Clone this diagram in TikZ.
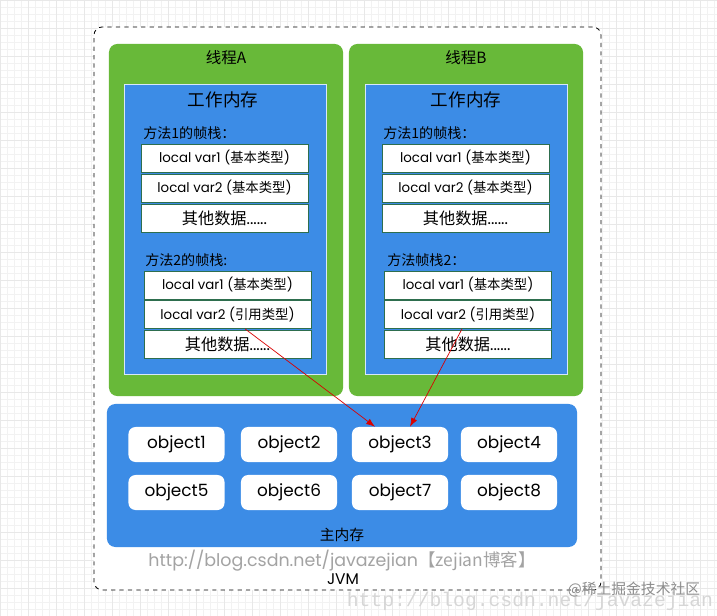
\documentclass[tikz,border=0pt]{standalone}
\usepackage{fontspec}
\setmainfont{Poppins}
\newfontfamily\cjk{Noto Sans CJK SC}
\newfontfamily\wmfont{Liberation Mono}
\usepackage{tikz}
\usetikzlibrary{positioning, arrows.meta}

\definecolor{threadgreen}{HTML}{68B939}
\definecolor{membluebg}{HTML}{3C8CE6}
\definecolor{slotline}{HTML}{2E6E4E}
\definecolor{urlgray}{HTML}{A3A3A3}

\begin{document}
\begin{tikzpicture}[
  x=0.025cm, y=-0.025cm,
  thread/.style={rectangle, rounded corners=6pt, fill=threadgreen, minimum width=5.85cm, minimum height=8.8cm},
  workmem/.style={rectangle, draw=white!80!membluebg, line width=0.6pt, fill=membluebg, minimum width=5.05cm, minimum height=7.25cm},
  slot/.style={rectangle, draw=slotline, line width=0.6pt, fill=white, minimum width=4.175cm, minimum height=0.7cm, inner sep=0pt, font=\fontsize{9.5}{11}\selectfont},
  restslot/.style={slot, font=\fontsize{11.5}{13}\selectfont},
  obj/.style={rectangle, rounded corners=5pt, fill=white, minimum width=2.4cm, minimum height=0.875cm, inner sep=0pt, font=\fontsize{12}{14}\selectfont},
  frametitle/.style={anchor=west, inner sep=0pt, font=\cjk\fontsize{10}{12}\selectfont},
  ref/.style={-{Latex[length=2.2mm, width=1.6mm]}, red!85!black, line width=0.5pt}
]

\useasboundingbox (0,0) rectangle (717,616);

% graph paper behind
\draw[black!5, line width=0.3pt, step=0.175cm] (0,0) grid (717,616);
\draw[black!9, line width=0.4pt, step=0.7cm] (0,0) grid (717,616);

\node[rectangle, draw, dashed, rounded corners=6pt, fill=white, line width=0.6pt,
  minimum width=12.675cm, minimum height=14.075cm] (jvm) at (347.5,308.5) {};

% threads
\node[thread] (threadA) at (226,220) {};
\node[thread] (threadB) at (466,220) {};
\node[font=\cjk\fontsize{11}{13}\selectfont] (nameA) at (226,58) {线程A};
\node[font=\cjk\fontsize{11}{13}\selectfont] (nameB) at (466,58) {线程B};

\node[workmem] (workA) at (225,229) {};
\node[workmem] (workB) at (466,229) {};
\node[font=\cjk\fontsize{12.5}{15}\selectfont] (workAtitle) at (223,100) {工作内存};
\node[font=\cjk\fontsize{12.5}{15}\selectfont] (workBtitle) at (466,100) {工作内存};

% thread A frames
\node[frametitle] (a1title) at (143,133) {方法1的帧栈：};
\node[slot] (a1v1) at (224.5,158) {local var1 ({\cjk 基本类型})};
\node[slot] (a1v2) at (224.5,188) {local var2 ({\cjk 基本类型})};
\node[restslot] (a1rest) at (224.5,218) {{\cjk 其他数据}......};

\node[frametitle] (a2title) at (145,260) {方法2的帧栈:};
\node[slot] (a2v1) at (227.5,285) {local var1 ({\cjk 基本类型})};
\node[slot] (a2v2) at (227.5,314.5) {local var2 ({\cjk 引用类型})};
\node[restslot] (a2rest) at (227.5,344.5) {{\cjk 其他数据}......};

% thread B frames
\node[frametitle] (b1title) at (383,133) {方法1的帧栈：};
\node[slot] (b1v1) at (465.5,158) {local var1 ({\cjk 基本类型})};
\node[slot] (b1v2) at (465.5,188) {local var2 ({\cjk 基本类型})};
\node[restslot] (b1rest) at (465.5,218) {{\cjk 其他数据}......};

\node[frametitle] (b2title) at (387,260) {方法帧栈2：};
\node[slot] (b2v1) at (468,285) {local var1 ({\cjk 基本类型})};
\node[slot] (b2v2) at (468,314.5) {local var2 ({\cjk 引用类型})};
\node[restslot] (b2rest) at (468,344.5) {{\cjk 其他数据}......};

% main memory
\node[rectangle, rounded corners=6pt, fill=membluebg, minimum width=11.75cm, minimum height=3.575cm] (mainmem) at (342,475.5) {};
\foreach \i/\x/\y in {1/176.5/444.5, 2/289/444.5, 3/400/444.5, 4/509/444.5,
                      5/176.5/492.5, 6/289/492.5, 7/400/492.5, 8/509/492.5}
  \node[obj] (obj\i) at (\x,\y) {object\i};
\node[font=\cjk\fontsize{10.5}{12}\selectfont] (mainname) at (342,535) {主内存};

\node[text=urlgray, font=\fontsize{12.4}{14}\selectfont] (url) at (342,561) {http://blog.csdn.net/javazejian{\cjk 【zejian博客】}};
\node[font=\fontsize{11}{13}\selectfont] (jvmname) at (343,579) {JVM};

% watermarks
\node[text=black!16, font=\wmfont\fontsize{14}{16}\selectfont] (wm1) at (530,601) {http://blog.csdn.net/javazejian};
\node[text=black!45, font=\cjk\fontsize{10.5}{12}\selectfont] (wm2) at (634,590) {@稀土掘金技术社区};

\draw[ref] ([xshift=0.44cm]a2v2.south) -- ([xshift=-0.625cm]obj3.north);
\draw[ref] ([xshift=-0.15cm]b2v2.south) -- ([xshift=0.25cm]obj3.north);

\end{tikzpicture}
\end{document}
